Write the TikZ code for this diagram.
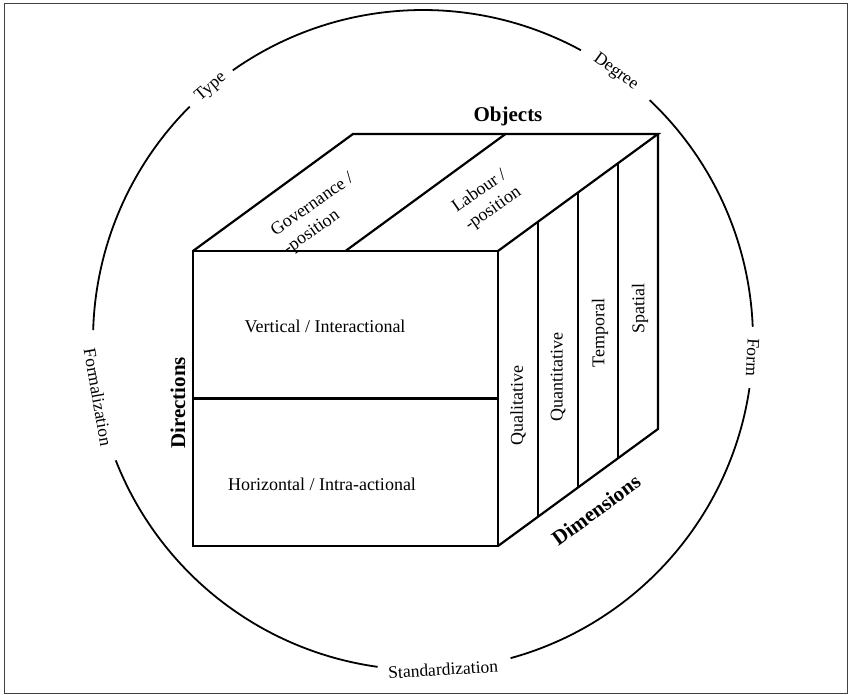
\documentclass[tikz,border=0pt]{standalone}
\usepackage{fontspec}
\setmainfont{Liberation Serif}
\usetikzlibrary{calc}
\begin{document}
\begin{tikzpicture}[x=1pt,y=1pt,
  edge/.style={line width=2.2pt, line join=miter},
  ring/.style={line width=1.8pt},
  lbl/.style={font=\fontsize{18}{22}\selectfont, inner sep=1pt},
  ringlbl/.style={font=\fontsize{17.5}{21}\selectfont, inner sep=1pt},
  head/.style={font=\fontsize{21}{25}\selectfont\bfseries, inner sep=1pt}]
\useasboundingbox (0,0) rectangle (852,695);
% outer frame
\draw[line width=1.6pt, black!75] (4.5,1.5) rectangle (847.5,691.5);

% the ring of properties, broken where its labels sit
\coordinate (C) at (423,355);
\def\R{330}
\draw[ring] (C) ++(2.3:\R) arc[start angle=2.3, end angle=46.6, radius=\R];
\draw[ring] (C) ++(61.4:\R) arc[start angle=61.4, end angle=125.2, radius=\R];
\draw[ring] (C) ++(135:\R) arc[start angle=135, end angle=178.3, radius=\R];
\draw[ring] (C) ++(201.4:\R) arc[start angle=201.4, end angle=262.1, radius=\R];
\draw[ring] (C) ++(285.4:\R) arc[start angle=285.4, end angle=351.6, radius=\R];
\node[ringlbl, rotate=40]   (type)   at ([shift={(130:\R)}]C) {Type};
\node[ringlbl, rotate=-35.7] (degree) at ([shift={(54.3:\R)}]C) {Degree};
\node[ringlbl, rotate=-93]  (form)   at ([shift={(-3:\R)}]C) {Form};
\node[ringlbl, rotate=3.5]  (std)    at ([shift={(-86.5:\R)}]C) {Standardization};
\node[ringlbl, rotate=-80]  (formal) at ([shift={(190:\R)}]C) {Formalization};

% cube corners
\coordinate (FTL) at (193,444);
\coordinate (FTR) at (498,444);
\coordinate (FBL) at (193,149);
\coordinate (FBR) at (498,149);
\coordinate (BTL) at (353,561);
\coordinate (BTR) at (658,561);
\coordinate (BBR) at (658,266);
\coordinate (FML) at (193,296.5);
\coordinate (FMR) at (498,296.5);
\coordinate (TDF) at (345.5,444);
\coordinate (TDB) at (505.5,561);

% front face with its split
\draw[edge] (FTL) rectangle (FBR);
\draw[edge] (FML) -- (FMR);
% top face with its split
\draw[edge] (FTL) -- (BTL) -- (BTR) -- (FTR);
\draw[edge] (TDF) -- (TDB);
% right face with three splits
\draw[edge] (BTR) -- (BBR) -- (FBR);
\foreach \k in {0.25,0.5,0.75}
  \draw[edge] ($(FTR)!\k!(BTR)$) -- ($(FBR)!\k!(BBR)$);

% face labels
\node[lbl] (vert) at (325,369) {Vertical / Interactional};
\node[lbl] (hori) at (322,211) {Horizontal / Intra-actional};
\node[lbl, rotate=35, align=left] (gov) at (319,480.5) {Governance /\\-position};
\node[lbl, rotate=35, align=left] (lab) at (487,495) {Labour /\\-position};
\node[lbl, rotate=90] (qual)  at (518,289) {Qualitative};
\node[lbl, rotate=90] (quant) at (558,318) {Quantitative};
\node[lbl, rotate=90] (temp)  at (600,362) {Temporal};
\node[lbl, rotate=90] (spat)  at (640,386) {Spatial};

% axis headings
\node[head] (obj) at (508,579) {Objects};
\node[head, rotate=90] (dir) at (178,292) {Directions};
\node[head, rotate=36.2] (dim) at (596,185) {Dimensions};
\end{tikzpicture}
\end{document}
